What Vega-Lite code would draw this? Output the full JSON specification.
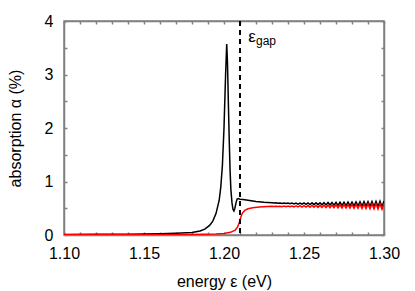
{
  "$schema": "https://vega.github.io/schema/vega-lite/v6.json",
  "width": 320,
  "height": 214,
  "autosize": "none",
  "padding": {"left": 64, "top": 21, "right": 31, "bottom": 56},
  "background": "white",
  "config": {
    "view": {"stroke": "#808080", "strokeWidth": 1.5},
    "font": "Liberation Sans",
    "axis": {
      "domainColor": "#808080", "domainWidth": 1.5, "tickColor": "#808080", "tickWidth": 1.5, "grid": false,
      "labelFont": "Liberation Sans", "labelFontSize": 16, "labelColor": "black",
      "titleFont": "Liberation Sans", "titleFontSize": 16, "titleFontWeight": "normal", "titleColor": "black"
    }
  },
  "datasets": {
    "black": [
      {"e": 1.100, "a": 0.010}, {"e": 1.120, "a": 0.012}, {"e": 1.140, "a": 0.016},
      {"e": 1.160, "a": 0.024}, {"e": 1.170, "a": 0.032}, {"e": 1.180, "a": 0.045},
      {"e": 1.185, "a": 0.075}, {"e": 1.188, "a": 0.11}, {"e": 1.191, "a": 0.18},
      {"e": 1.193, "a": 0.26}, {"e": 1.195, "a": 0.40}, {"e": 1.197, "a": 0.65},
      {"e": 1.198, "a": 0.90}, {"e": 1.199, "a": 1.30}, {"e": 1.200, "a": 2.0},
      {"e": 1.201, "a": 3.0}, {"e": 1.2017, "a": 3.57}, {"e": 1.2022, "a": 3.2},
      {"e": 1.2027, "a": 2.5}, {"e": 1.2033, "a": 1.75}, {"e": 1.2038, "a": 1.2},
      {"e": 1.2043, "a": 0.85}, {"e": 1.2050, "a": 0.60}, {"e": 1.2056, "a": 0.48},
      {"e": 1.2062, "a": 0.45}, {"e": 1.2068, "a": 0.50}, {"e": 1.2075, "a": 0.60},
      {"e": 1.2082, "a": 0.67}, {"e": 1.2090, "a": 0.68}, {"e": 1.2100, "a": 0.67},
      {"e": 1.212, "a": 0.665}, {"e": 1.215, "a": 0.65}, {"e": 1.218, "a": 0.635},
      {"e": 1.220, "a": 0.625}, {"e": 1.225, "a": 0.61},
      {"e": 1.23, "a": 0.603}, {"e": 1.23125, "a": 0.597}, {"e": 1.2325, "a": 0.601},
      {"e": 1.23375, "a": 0.594}, {"e": 1.235, "a": 0.600}, {"e": 1.23625, "a": 0.591},
      {"e": 1.2375, "a": 0.599}, {"e": 1.23875, "a": 0.588}, {"e": 1.24, "a": 0.598},
      {"e": 1.24125, "a": 0.585}, {"e": 1.2425, "a": 0.597}, {"e": 1.24375, "a": 0.581},
      {"e": 1.245, "a": 0.597}, {"e": 1.24625, "a": 0.577}, {"e": 1.2475, "a": 0.598},
      {"e": 1.24875, "a": 0.575}, {"e": 1.25, "a": 0.598}, {"e": 1.25125, "a": 0.572},
      {"e": 1.2525, "a": 0.600}, {"e": 1.25375, "a": 0.570}, {"e": 1.255, "a": 0.601},
      {"e": 1.25625, "a": 0.568}, {"e": 1.2575, "a": 0.603}, {"e": 1.25875, "a": 0.567},
      {"e": 1.26, "a": 0.603}, {"e": 1.26125, "a": 0.564}, {"e": 1.2625, "a": 0.605},
      {"e": 1.26375, "a": 0.562}, {"e": 1.265, "a": 0.607}, {"e": 1.26625, "a": 0.560},
      {"e": 1.2675, "a": 0.609}, {"e": 1.26875, "a": 0.558}, {"e": 1.27, "a": 0.610},
      {"e": 1.27125, "a": 0.555}, {"e": 1.2725, "a": 0.612}, {"e": 1.27375, "a": 0.553},
      {"e": 1.275, "a": 0.614}, {"e": 1.27625, "a": 0.551}, {"e": 1.2775, "a": 0.616},
      {"e": 1.27875, "a": 0.549}, {"e": 1.28, "a": 0.617}, {"e": 1.28125, "a": 0.546},
      {"e": 1.2825, "a": 0.619}, {"e": 1.28375, "a": 0.544}, {"e": 1.285, "a": 0.621},
      {"e": 1.28625, "a": 0.542}, {"e": 1.2875, "a": 0.623}, {"e": 1.28875, "a": 0.540},
      {"e": 1.29, "a": 0.625}, {"e": 1.29125, "a": 0.536}, {"e": 1.2925, "a": 0.627},
      {"e": 1.29375, "a": 0.534}, {"e": 1.295, "a": 0.630}, {"e": 1.29625, "a": 0.531},
      {"e": 1.2975, "a": 0.632}, {"e": 1.29875, "a": 0.528}, {"e": 1.30, "a": 0.634}
    ],
    "red": [
      {"e": 1.100, "a": 0.003}, {"e": 1.150, "a": 0.005}, {"e": 1.180, "a": 0.010},
      {"e": 1.195, "a": 0.020}, {"e": 1.200, "a": 0.030}, {"e": 1.204, "a": 0.050},
      {"e": 1.207, "a": 0.09}, {"e": 1.2085, "a": 0.15}, {"e": 1.2095, "a": 0.23},
      {"e": 1.2105, "a": 0.33}, {"e": 1.2115, "a": 0.41}, {"e": 1.213, "a": 0.46},
      {"e": 1.215, "a": 0.49}, {"e": 1.218, "a": 0.51}, {"e": 1.222, "a": 0.525},
      {"e": 1.23, "a": 0.537}, {"e": 1.23125, "a": 0.532}, {"e": 1.2325, "a": 0.538},
      {"e": 1.23375, "a": 0.531}, {"e": 1.235, "a": 0.539}, {"e": 1.23625, "a": 0.530},
      {"e": 1.2375, "a": 0.540}, {"e": 1.23875, "a": 0.529}, {"e": 1.24, "a": 0.542},
      {"e": 1.24125, "a": 0.528}, {"e": 1.2425, "a": 0.543}, {"e": 1.24375, "a": 0.526},
      {"e": 1.245, "a": 0.545}, {"e": 1.24625, "a": 0.524}, {"e": 1.2475, "a": 0.547},
      {"e": 1.24875, "a": 0.523}, {"e": 1.25, "a": 0.548}, {"e": 1.25125, "a": 0.521},
      {"e": 1.2525, "a": 0.550}, {"e": 1.25375, "a": 0.519}, {"e": 1.255, "a": 0.551},
      {"e": 1.25625, "a": 0.518}, {"e": 1.2575, "a": 0.553}, {"e": 1.25875, "a": 0.517},
      {"e": 1.26, "a": 0.554}, {"e": 1.26125, "a": 0.515}, {"e": 1.2625, "a": 0.556},
      {"e": 1.26375, "a": 0.513}, {"e": 1.265, "a": 0.558}, {"e": 1.26625, "a": 0.511},
      {"e": 1.2675, "a": 0.560}, {"e": 1.26875, "a": 0.509}, {"e": 1.27, "a": 0.562},
      {"e": 1.27125, "a": 0.507}, {"e": 1.2725, "a": 0.564}, {"e": 1.27375, "a": 0.505},
      {"e": 1.275, "a": 0.566}, {"e": 1.27625, "a": 0.503}, {"e": 1.2775, "a": 0.568},
      {"e": 1.27875, "a": 0.501}, {"e": 1.28, "a": 0.570}, {"e": 1.28125, "a": 0.499},
      {"e": 1.2825, "a": 0.572}, {"e": 1.28375, "a": 0.497}, {"e": 1.285, "a": 0.574},
      {"e": 1.28625, "a": 0.495}, {"e": 1.2875, "a": 0.576}, {"e": 1.28875, "a": 0.493},
      {"e": 1.29, "a": 0.579}, {"e": 1.29125, "a": 0.490}, {"e": 1.2925, "a": 0.581},
      {"e": 1.29375, "a": 0.488}, {"e": 1.295, "a": 0.584}, {"e": 1.29625, "a": 0.485},
      {"e": 1.2975, "a": 0.586}, {"e": 1.29875, "a": 0.482}, {"e": 1.30, "a": 0.589}
    ],
    "gap": [{"e": 1.21}],
    "lbl": [{"e": 1.2152, "a": 3.61, "t": "ε"}],
    "sub": [{"e": 1.2200, "a": 3.55, "t": "gap"}]
  },
  "layer": [
    {
      "data": {"name": "black"},
      "mark": {"type": "line", "color": "black", "strokeWidth": 1.5, "clip": true},
      "encoding": {
        "x": {"field": "e", "type": "quantitative", "title": "energy ε (eV)",
          "scale": {"domain": [1.1, 1.3], "nice": false, "zero": false},
          "axis": {"orient": "bottom",
            "values": [1.10,1.11,1.12,1.13,1.14,1.15,1.16,1.17,1.18,1.19,1.20,1.21,1.22,1.23,1.24,1.25,1.26,1.27,1.28,1.29,1.30],
            "labelExpr": "round(datum.value*100) % 5 === 0 ? format(datum.value, '.2f') : ''",
            "tickSize": -3,
            "labelPadding": 13, "titlePadding": 12, "labelFlush": false, "labelOverlap": false}},
        "y": {"field": "a", "type": "quantitative", "title": "absorption α (%)",
          "scale": {"domain": [0, 4], "nice": false},
          "axis": {"orient": "left",
            "values": [0,0.5,1,1.5,2,2.5,3,3.5,4],
            "labelExpr": "datum.value % 1 === 0 ? format(datum.value, 'd') : ''",
            "tickSize": -3,
            "labelPadding": 14, "titlePadding": 21, "labelFlush": false, "labelOverlap": false}}
      }
    },
    {
      "data": {"name": "red"},
      "mark": {"type": "line", "color": "#ff0000", "strokeWidth": 1.5, "clip": true},
      "encoding": {
        "x": {"field": "e", "type": "quantitative",
          "scale": {"domain": [1.1, 1.3], "nice": false, "zero": false},
          "axis": {"orient": "top", "title": null,
            "values": [1.10,1.11,1.12,1.13,1.14,1.15,1.16,1.17,1.18,1.19,1.20,1.21,1.22,1.23,1.24,1.25,1.26,1.27,1.28,1.29,1.30],
            "labels": false, "tickSize": -3}},
        "y": {"field": "a", "type": "quantitative",
          "scale": {"domain": [0, 4], "nice": false},
          "axis": {"orient": "right", "title": null,
            "values": [0,0.5,1,1.5,2,2.5,3,3.5,4],
            "labels": false, "tickSize": -3}}
      }
    },
    {
      "data": {"name": "gap"},
      "mark": {"type": "rule", "color": "black", "strokeWidth": 2, "strokeDash": [5, 4]},
      "encoding": {
        "x": {"field": "e", "type": "quantitative", "axis": null}
      }
    },
    {
      "data": {"name": "lbl"},
      "mark": {"type": "text", "align": "left", "baseline": "alphabetic", "fontSize": 17, "font": "Liberation Sans", "color": "black"},
      "encoding": {
        "x": {"field": "e", "type": "quantitative", "axis": null},
        "y": {"field": "a", "type": "quantitative", "axis": null},
        "text": {"field": "t"}
      }
    },
    {
      "data": {"name": "sub"},
      "mark": {"type": "text", "align": "left", "baseline": "alphabetic", "fontSize": 12, "font": "Liberation Sans", "color": "black"},
      "encoding": {
        "x": {"field": "e", "type": "quantitative", "axis": null},
        "y": {"field": "a", "type": "quantitative", "axis": null},
        "text": {"field": "t"}
      }
    }
  ],
  "resolve": {"axis": {"x": "independent", "y": "independent"}}
}
